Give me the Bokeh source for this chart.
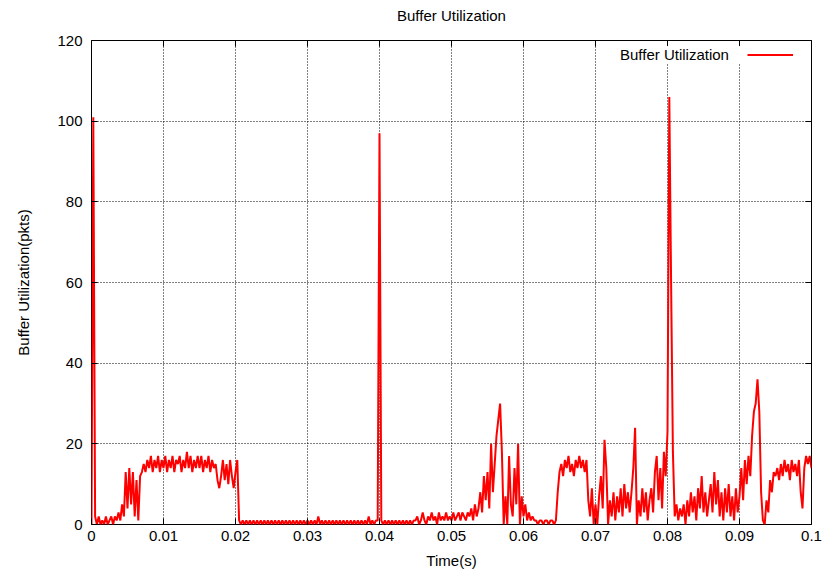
from bokeh.plotting import figure
from bokeh.models import Range1d, FixedTicker, LinearAxis, Legend, LegendItem, CustomJSTickFormatter
from bokeh.embed import file_html
from bokeh.resources import INLINE

# ---- data ----
time_step_s = 0.00025
buffer_pkts = [
    0, 101, 2, 0, 2, 0, 1, 0, 2, 0, 1, 2, 0, 2, 1, 3, 1, 5, 2, 13,
    4, 14, 5, 13, 2, 11, 1, 12, 13, 15, 13, 16, 14, 17, 13, 16, 14, 17, 13, 16,
    14, 17, 13, 16, 14, 17, 13, 16, 15, 17, 13, 16, 14, 18, 14, 17, 13, 16, 14, 17,
    14, 17, 13, 16, 14, 17, 13, 16, 14, 15, 11, 9, 12, 16, 11, 15, 10, 16, 12, 9,
    13, 16, 1, 0, 1, 0, 1, 0, 1, 0, 1, 0, 1, 0, 1, 0, 1, 0, 1, 0,
    1, 0, 1, 0, 1, 0, 1, 0, 1, 0, 1, 0, 1, 0, 1, 0, 1, 0, 1, 0,
    1, 0, 1, 0, 1, 0, 2, 0, 1, 0, 1, 0, 1, 0, 1, 0, 1, 0, 1, 0,
    1, 0, 1, 0, 1, 0, 1, 0, 1, 0, 1, 0, 1, 0, 2, 0, 1, 0, 1, 1,
    97, 1, 0, 1, 0, 1, 0, 1, 0, 1, 0, 1, 0, 1, 0, 1, 0, 1, 0, 1,
    1, 2, 0, 1, 3, 1, 0, 2, 1, 3, 1, 2, 0, 3, 1, 2, 1, 3, 1, 2,
    1, 3, 1, 2, 3, 1, 3, 2, 1, 3, 2, 4, 1, 5, 2, 4, 8, 3, 12, 6,
    13, 4, 20, 8, 15, 22, 26, 30, 18, 0, 7, 0, 17, 5, 2, 14, 5, 20, 0, 7,
    2, 5, 1, 3, 1, 2, 1, 1, 0, 1, 1, 0, 1, 1, 0, 1, 1, 0, 1, 8,
    13, 15, 12, 16, 14, 17, 13, 15, 12, 16, 14, 17, 14, 16, 13, 16, 6, 2, 9, 0,
    5, 0, 7, 12, 4, 21, 14, 0, 6, 2, 8, 1, 7, 3, 9, 2, 10, 4, 8, 3,
    8, 14, 24, 0, 6, 2, 9, 3, 8, 1, 6, 9, 3, 13, 17, 6, 14, 4, 18, 12,
    23, 106, 60, 18, 2, 5, 1, 4, 2, 5, 0, 6, 2, 8, 3, 7, 1, 9, 4, 12,
    3, 8, 2, 6, 10, 3, 13, 5, 11, 2, 8, 1, 9, 3, 10, 2, 7, 1, 9, 3,
    7, 14, 6, 16, 10, 17, 12, 22, 28, 30, 36, 28, 8, 1, 0, 6, 3, 11, 8, 13,
    12, 14, 11, 15, 12, 16, 13, 15, 11, 16, 13, 15, 12, 16, 8, 4, 14, 17, 15, 17,
    14,
]
time_s = [i * time_step_s for i in range(len(buffer_pkts))]

x_ticks = [0, 0.01, 0.02, 0.03, 0.04, 0.05, 0.06, 0.07, 0.08, 0.09, 0.1]
x_tick_labels = ["0", "0.01", "0.02", "0.03", "0.04", "0.05", "0.06", "0.07", "0.08", "0.09", "0.1"]
y_ticks = [0, 20, 40, 60, 80, 100, 120]

title_text = "Buffer Utilization"
series_name = "Buffer Utilization"
x_label = "Time(s)"
y_label = "Buffer Utilization(pkts)"

FONT = "Liberation Sans"
FS = "15px"

p = figure(
    width=827, height=574,
    output_backend="svg", toolbar_location=None,
    x_range=Range1d(0, 0.1), y_range=Range1d(0, 120),
    min_border_left=91, min_border_right=16, min_border_top=40, min_border_bottom=50,
    background_fill_color="white", border_fill_color="white",
)

p.outline_line_color = "black"
p.outline_line_width = 1
p.outline_line_alpha = 1

xt = FixedTicker(ticks=x_ticks)
yt = FixedTicker(ticks=y_ticks)

def style_axis(ax, show_labels=True):
    ax.axis_line_color = None
    ax.major_tick_in = 6
    ax.major_tick_out = 0
    ax.major_tick_line_color = "black"
    ax.major_tick_line_width = 1
    ax.minor_tick_line_color = None
    ax.major_label_text_font = FONT
    ax.major_label_text_color = "black"
    ax.axis_label_text_font = FONT
    ax.axis_label_text_font_size = FS
    ax.axis_label_text_font_style = "normal"
    ax.axis_label_text_color = "black"
    ax.major_label_text_font_size = FS
    if not show_labels:
        ax.formatter = CustomJSTickFormatter(code="return ''")
        ax.major_label_standoff = 0

xa = p.xaxis[0]
xa.ticker = xt
xa.major_label_overrides = dict(zip(x_ticks, x_tick_labels))
style_axis(xa)
xa.major_label_standoff = 6
xa.axis_label = x_label
xa.axis_label_standoff = 8

ya = p.yaxis[0]
ya.ticker = yt
style_axis(ya)
ya.major_label_standoff = 9
ya.axis_label = y_label
ya.axis_label_standoff = 22

# mirror axis on top; its axis label carries the chart title
top_ax = LinearAxis(ticker=FixedTicker(ticks=x_ticks))
style_axis(top_ax, show_labels=False)
top_ax.axis_label = title_text
top_ax.axis_label_standoff = 17
p.add_layout(top_ax, "above")
right_ax = LinearAxis(ticker=FixedTicker(ticks=y_ticks))
style_axis(right_ax, show_labels=False)
p.add_layout(right_ax, "right")

for g, t in ((p.xgrid[0], xt), (p.ygrid[0], yt)):
    g.ticker = t
    g.grid_line_color = "black"
    g.grid_line_dash = "1 2"
    g.grid_line_width = 1
    g.grid_line_alpha = 1

r = p.line(time_s, buffer_pkts, line_color="#ff0000", line_width=2)
dummy = p.line([], [], line_alpha=0)

common = dict(
    padding=0, margin=0, spacing=0,
    border_line_color=None,
    background_fill_color="white", background_fill_alpha=1,
    label_text_font=FONT, label_text_font_size=FS, label_text_color="black",
    label_height=17, glyph_height=17, label_standoff=0,
)
legend_text = Legend(items=[LegendItem(label=series_name, renderers=[dummy])],
                     location=(529, 461), glyph_width=0, label_width=127, **common)
legend_sample = Legend(items=[LegendItem(label=" ", renderers=[r])],
                       location=(656, 461), glyph_width=46, label_width=0, **common)
p.add_layout(legend_text)
p.add_layout(legend_sample)

open("out.html", "w").write(file_html(p, INLINE))
